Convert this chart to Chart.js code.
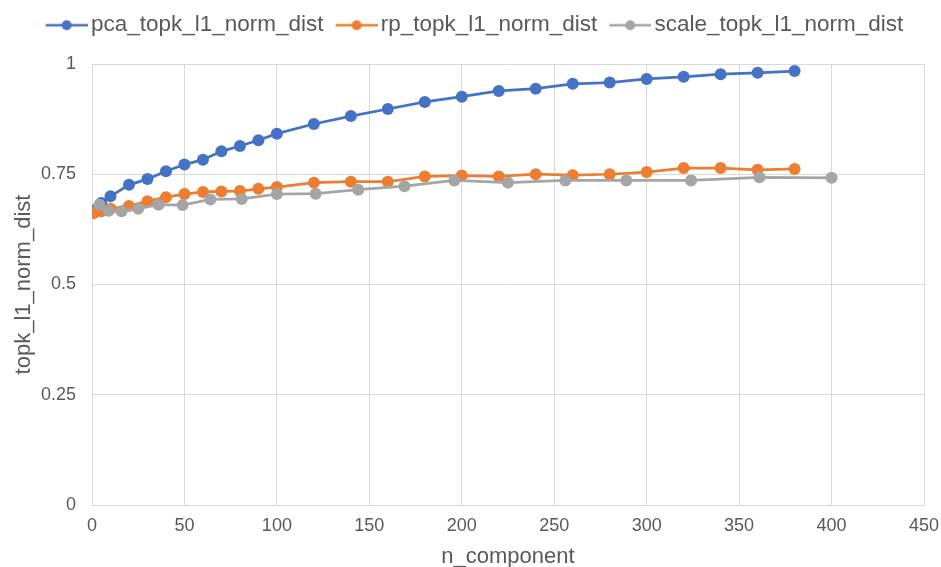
<!DOCTYPE html>
<html lang="en">
  <head>
    <meta charset="UTF-8" />
    <title>topk_l1_norm_dist</title>
    <script src="https://cdn.jsdelivr.net/npm/chart.js"></script>
    <style>
      body { margin: 0; background: #ffffff; }
      .chart-wrapper { position: relative; width: 941px; height: 567px; }
    </style>
  </head>
  <body>
    <div class="chart-wrapper">
      <canvas id="distChart"></canvas>
    </div>

    <script>
      // n_component values
      const pcaX   = [1, 5, 10, 20, 30, 40, 50, 60, 70, 80, 90, 100, 120, 140, 160, 180, 200, 220, 240, 260, 280, 300, 320, 340, 360, 380];
      const rpX    = pcaX;
      const scaleX = [4, 9, 16, 25, 36, 49, 64, 81, 100, 121, 144, 169, 196, 225, 256, 289, 324, 361, 400];

      // topk_l1_norm_dist values
      const pcaY   = [0.668, 0.685, 0.700, 0.726, 0.739, 0.757, 0.772, 0.783, 0.802, 0.814, 0.827, 0.842, 0.864, 0.882, 0.898, 0.914, 0.926, 0.939, 0.944, 0.955, 0.958, 0.966, 0.971, 0.977, 0.980, 0.984];
      const rpY    = [0.662, 0.666, 0.672, 0.678, 0.689, 0.698, 0.705, 0.710, 0.711, 0.712, 0.717, 0.721, 0.731, 0.733, 0.733, 0.745, 0.747, 0.745, 0.750, 0.748, 0.750, 0.755, 0.764, 0.764, 0.760, 0.762];
      const scaleY = [0.681, 0.667, 0.666, 0.672, 0.681, 0.680, 0.693, 0.694, 0.705, 0.706, 0.715, 0.723, 0.736, 0.731, 0.736, 0.736, 0.736, 0.743, 0.742];

      const seriesNames  = ["pca_topk_l1_norm_dist", "rp_topk_l1_norm_dist", "scale_topk_l1_norm_dist"];
      const seriesColors = ["#4472C4", "#ED7D31", "#A5A5A5"];

      const textColor = "#595959";
      const gridColor = "#D9D9D9";
      const fontFamily = "'Liberation Sans', Arial, sans-serif";

      function toPoints(xs, ys) {
        return xs.map((x, i) => ({ x: x, y: ys[i] }));
      }

      // legend marker: short line with a dot, transparent on the left so the
      // text sits right after it
      function legendMarker(color) {
        const c = document.createElement("canvas");
        c.width = 50;
        c.height = 14;
        const g = c.getContext("2d");
        g.strokeStyle = color;
        g.lineWidth = 2.5;
        g.beginPath();
        g.moveTo(8, 7);
        g.lineTo(50, 7);
        g.stroke();
        g.fillStyle = color;
        g.beginPath();
        g.arc(29, 7, 5, 0, Math.PI * 2);
        g.fill();
        return c;
      }

      const allX = [pcaX, rpX, scaleX];
      const allY = [pcaY, rpY, scaleY];

      const datasets = seriesNames.map((name, i) => ({
        label: name,
        data: toPoints(allX[i], allY[i]),
        borderColor: seriesColors[i],
        backgroundColor: seriesColors[i],
        borderWidth: 2.75,
        pointRadius: 6,
        pointHoverRadius: 6,
        pointBorderWidth: 0,
        pointStyle: "circle",
        showLine: true,
        tension: 0,
        order: 2 - i // later series drawn on top, like Excel
      }));

      const legendBox = {
        id: "legendBox",
        beforeInit(chart) {
          const origFit = chart.legend.fit;
          chart.legend.fit = function fit() {
            origFit.bind(chart.legend)();
            this.height = 64;
          };
        },
        afterLayout(chart) {
          chart.legend.left += 4;
          chart.legend.right += 4;
          chart.legend.top += 2;
          chart.legend.bottom += 2;
        }
      };

      const ctx = document.getElementById("distChart").getContext("2d");
      new Chart(ctx, {
        type: "scatter",
        data: { datasets: datasets },
        plugins: [legendBox],
        options: {
          responsive: true,
          maintainAspectRatio: false,
          animation: false,
          layout: { padding: { left: 0, right: 0, top: 0, bottom: 0 } },
          scales: {
            x: {
              type: "linear",
              min: 0,
              max: 450,
              ticks: {
                stepSize: 50,
                color: textColor,
                padding: 10,
                font: { family: fontFamily, size: 18 }
              },
              grid: { color: gridColor, drawTicks: false },
              border: { color: gridColor },
              title: {
                display: true,
                text: "n_component",
                color: textColor,
                padding: 0,
                font: { family: fontFamily, size: 22, lineHeight: 0.9 }
              },
              afterFit(scale) {
                scale.height = 62;
                scale.paddingRight = 17;
              }
            },
            y: {
              min: 0,
              max: 1,
              ticks: {
                stepSize: 0.25,
                color: textColor,
                padding: 16,
                font: { family: fontFamily, size: 18 },
                callback: (v) => String(Number(v.toFixed(2)))
              },
              grid: { color: gridColor, drawTicks: false },
              border: { color: gridColor },
              title: {
                display: true,
                text: "topk_l1_norm_dist",
                color: textColor,
                padding: { top: 11, bottom: 0 },
                font: { family: fontFamily, size: 22 }
              },
              afterFit(scale) { scale.width = 92; }
            }
          },
          plugins: {
            legend: {
              position: "top",
              labels: {
                color: textColor,
                font: { family: fontFamily, size: 22.5 },
                padding: 12,
                usePointStyle: true,
                pointStyleWidth: 34,
                sort: (a, b) => a.datasetIndex - b.datasetIndex,
                generateLabels(chart) {
                  return chart.data.datasets.map((ds, i) => ({
                    text: ds.label,
                    fontColor: textColor,
                    pointStyle: legendMarker(seriesColors[i]),
                    datasetIndex: i,
                    hidden: !chart.isDatasetVisible(i),
                    lineWidth: 0,
                    strokeStyle: "transparent",
                    fillStyle: "transparent"
                  }));
                }
              }
            },
            tooltip: { enabled: false }
          }
        }
      });
    </script>
  </body>
</html>
